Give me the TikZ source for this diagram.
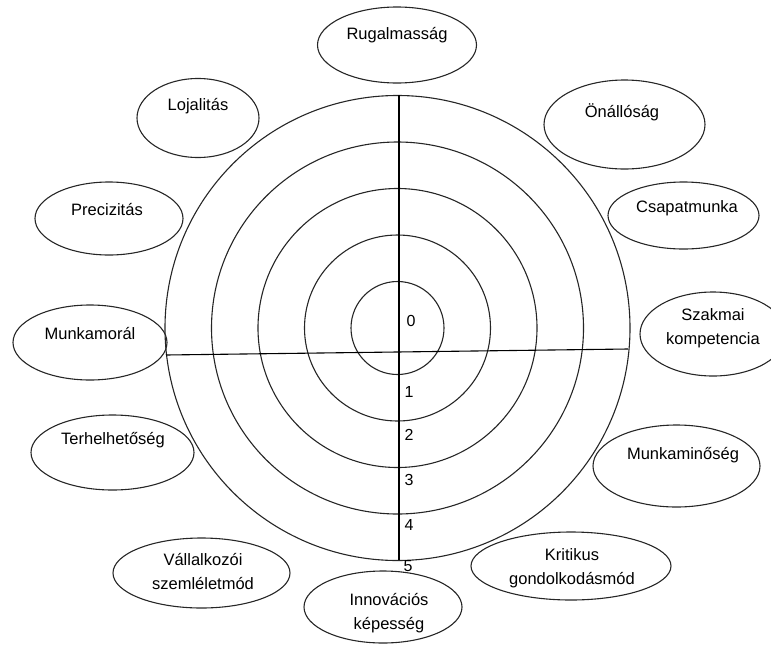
\documentclass[tikz,border=0pt]{standalone}
\usepackage{fontspec}
\setmainfont{Liberation Sans}
\usetikzlibrary{shapes.geometric}
\begin{document}
\begin{tikzpicture}[x=1pt,y=-1pt,
  ring/.style={draw=black!85,line width=1.1pt},
  axis/.style={draw=black,line width=1.1pt},
  oval/.style={ellipse,draw=black!85,line width=1.1pt,inner sep=0pt},
  lbl/.style={font=\fontsize{16.5}{24}\selectfont,align=center,inner sep=0pt},
  num/.style={font=\fontsize{16}{18}\selectfont,inner sep=0pt}]
\useasboundingbox (0,0) rectangle (771,646);
\coordinate (c) at (397.5,328);
\foreach \r in {1,...,5} \draw[ring] (c) circle[radius=46.5*\r];
\coordinate (vt) at (399,95);
\coordinate (vb) at (399,560);
\coordinate (hl) at (166,355);
\coordinate (hr) at (628,349);
\draw[axis] (vt) -- (vb);
\draw[axis] (hl) -- (hr);
\node[num] (n0) at (411,321) {0};
\node[num] (n1) at (409,392) {1};
\node[num] (n2) at (409,435) {2};
\node[num] (n3) at (409,480) {3};
\node[num] (n4) at (409,525) {4};
\node[num] (n5) at (408,566) {5};
% ellipses
\node[oval,minimum width=159,minimum height=76] (e1) at (397,45) {};
\node[lbl] (t1) at (397,35) {Rugalmasság};
\node[oval,minimum width=122,minimum height=79] (e2) at (198,118) {};
\node[lbl] (t2) at (198,106) {Lojalitás};
\node[oval,minimum width=161,minimum height=89] (e3) at (624.5,124.5) {};
\node[lbl] (t3) at (622,112) {Önállóság};
\node[oval,minimum width=151,minimum height=67] (e4) at (683.5,215.5) {};
\node[lbl] (t4) at (687,208) {Csapatmunka};
\node[oval,minimum width=148,minimum height=73] (e5) at (109,218.5) {};
\node[lbl] (t5) at (107,209) {Precizitás};
\node[oval,minimum width=154,minimum height=75] (e6) at (90,342.5) {};
\node[lbl] (t6) at (90,333) {Munkamorál};
\node[oval,minimum width=146,minimum height=84] (e7) at (713,334) {};
\node[lbl] (t7) at (713,328) {Szakmai\\kompetencia};
\node[oval,minimum width=163,minimum height=75] (e8) at (112.5,452.5) {};
\node[lbl] (t8) at (113,440) {Terhelhetőség};
\node[oval,minimum width=167,minimum height=82] (e9) at (676.5,466) {};
\node[lbl] (t9) at (683,455) {Munkaminőség};
\node[oval,minimum width=200,minimum height=68] (e10) at (571,566) {};
\node[lbl] (t10) at (572,568) {Kritikus\\gondolkodásmód};
\node[oval,minimum width=158,minimum height=72] (e11) at (383,607) {};
\node[lbl] (t11) at (389,613) {Innovációs\\képesség};
\node[oval,minimum width=177,minimum height=70] (e12) at (201.5,573) {};
\node[lbl] (t12) at (203,571) {Vállalkozói\\szemléletmód};
\end{tikzpicture}
\end{document}
